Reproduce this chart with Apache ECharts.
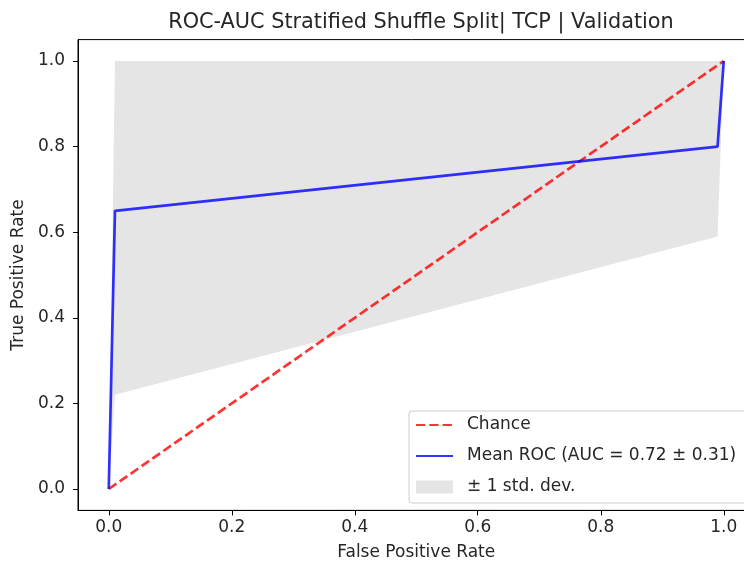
<!DOCTYPE html>
<html><head><meta charset="utf-8">
<script src="https://cdn.jsdelivr.net/npm/echarts@6/dist/echarts.min.js"></script>
<style>html,body{margin:0;padding:0;background:#fff}#c{width:744px;height:561px}</style>
</head><body><div id="c"></div>
<script>
const fpr = [0, 0.0101, 0.9899, 1.0];
const meanTpr = [0, 0.65, 0.80, 1.0];
const upperTpr = [0, 1.0, 1.0, 1.0];
const lowerTpr = [0, 0.22, 0.59, 1.0];
const chanceX = [0, 1];
const chanceY = [0, 1];
const tickValues = [0, 0.2, 0.4, 0.6, 0.8, 1.0];
const titleText = 'ROC-AUC Stratified Shuffle Split| TCP | Validation';
const names = ['Chance', 'Mean ROC (AUC = 0.72 \u00b1 0.31)', '\u00b1 1 std. dev.'];

const font = 'DejaVu Sans';
const chart = echarts.init(document.getElementById('c'));
const bandData = fpr.map((x, i) => [x, lowerTpr[i], upperTpr[i]]);

const axisCommon = {
  type: 'value', min: -0.05, max: 1.05,
  splitLine: {show: false},
  axisLine: {show: true, onZero: false, lineStyle: {color: '#000', width: 1}},
  axisTick: {show: true, customValues: tickValues, length: 5, lineStyle: {color: '#000'}},
  axisLabel: {customValues: tickValues, color: '#262626', fontFamily: font, fontSize: 17,
    formatter: v => v.toFixed(1)},
  nameLocation: 'middle',
  nameTextStyle: {fontFamily: font, fontSize: 17, color: '#262626'}
};

chart.setOption({
  animation: false,
  title: {text: titleText, left: 416, top: 7, textAlign: 'center',
    textStyle: {fontFamily: font, fontSize: 20.8, fontWeight: 'normal', color: '#262626'}},
  grid: {left: 78, top: 39.6, width: 676.5, height: 470.8, show: true, borderColor: '#000', borderWidth: 1,
    containLabel: false, outerBoundsMode: 'none'},
  xAxis: Object.assign({}, axisCommon, {name: 'False Positive Rate', nameGap: 34,
    axisLabel: Object.assign({}, axisCommon.axisLabel, {margin: 9})}),
  yAxis: Object.assign({}, axisCommon, {name: 'True Positive Rate', nameGap: 51,
    axisLabel: Object.assign({}, axisCommon.axisLabel, {margin: 13})}),
  legend: {
    orient: 'vertical', left: 409, top: 411,
    padding: [5, 40, 7, 6], itemGap: 13, itemWidth: 37, itemHeight: 13,
    borderColor: '#cccccc', borderWidth: 1, borderRadius: 3, backgroundColor: '#fff',
    textStyle: {fontFamily: font, fontSize: 17, lineHeight: 18, color: '#262626', padding: [0, 0, 0, 9]},
    data: [
      {name: names[0], itemStyle: {opacity: 0}},
      {name: names[1], itemStyle: {opacity: 0}},
      {name: names[2], icon: 'rect', itemStyle: {color: '#e5e5e5', borderWidth: 0}}
    ]
  },
  series: [
    {
      name: names[2], type: 'custom', z: 1,
      data: bandData,
      itemStyle: {color: '#e5e5e5'},
      renderItem: function (params, api) {
        if (params.dataIndex !== 0) return null;
        const top = bandData.map(d => api.coord([d[0], d[2]]));
        const bot = bandData.slice().reverse().map(d => api.coord([d[0], d[1]]));
        return {type: 'polygon', shape: {points: top.concat(bot)},
          style: {fill: '#e5e5e5', stroke: 'none'}};
      },
      encode: {x: 0, y: 1}
    },
    {
      name: names[0], type: 'line', z: 3,
      data: chanceX.map((x, i) => [x, chanceY[i]]),
      symbol: 'none', showSymbol: false,
      lineStyle: {color: 'rgba(255,0,0,0.8)', width: 2.7, type: [9.3, 4]},
      itemStyle: {color: 'rgba(255,0,0,0.8)'}
    },
    {
      name: names[1], type: 'line', z: 4,
      data: fpr.map((x, i) => [x, meanTpr[i]]),
      symbol: 'none', showSymbol: false,
      lineStyle: {color: 'rgba(0,0,255,0.8)', width: 2.7},
      itemStyle: {color: 'rgba(0,0,255,0.8)'}
    }
  ]
});
</script></body></html>
